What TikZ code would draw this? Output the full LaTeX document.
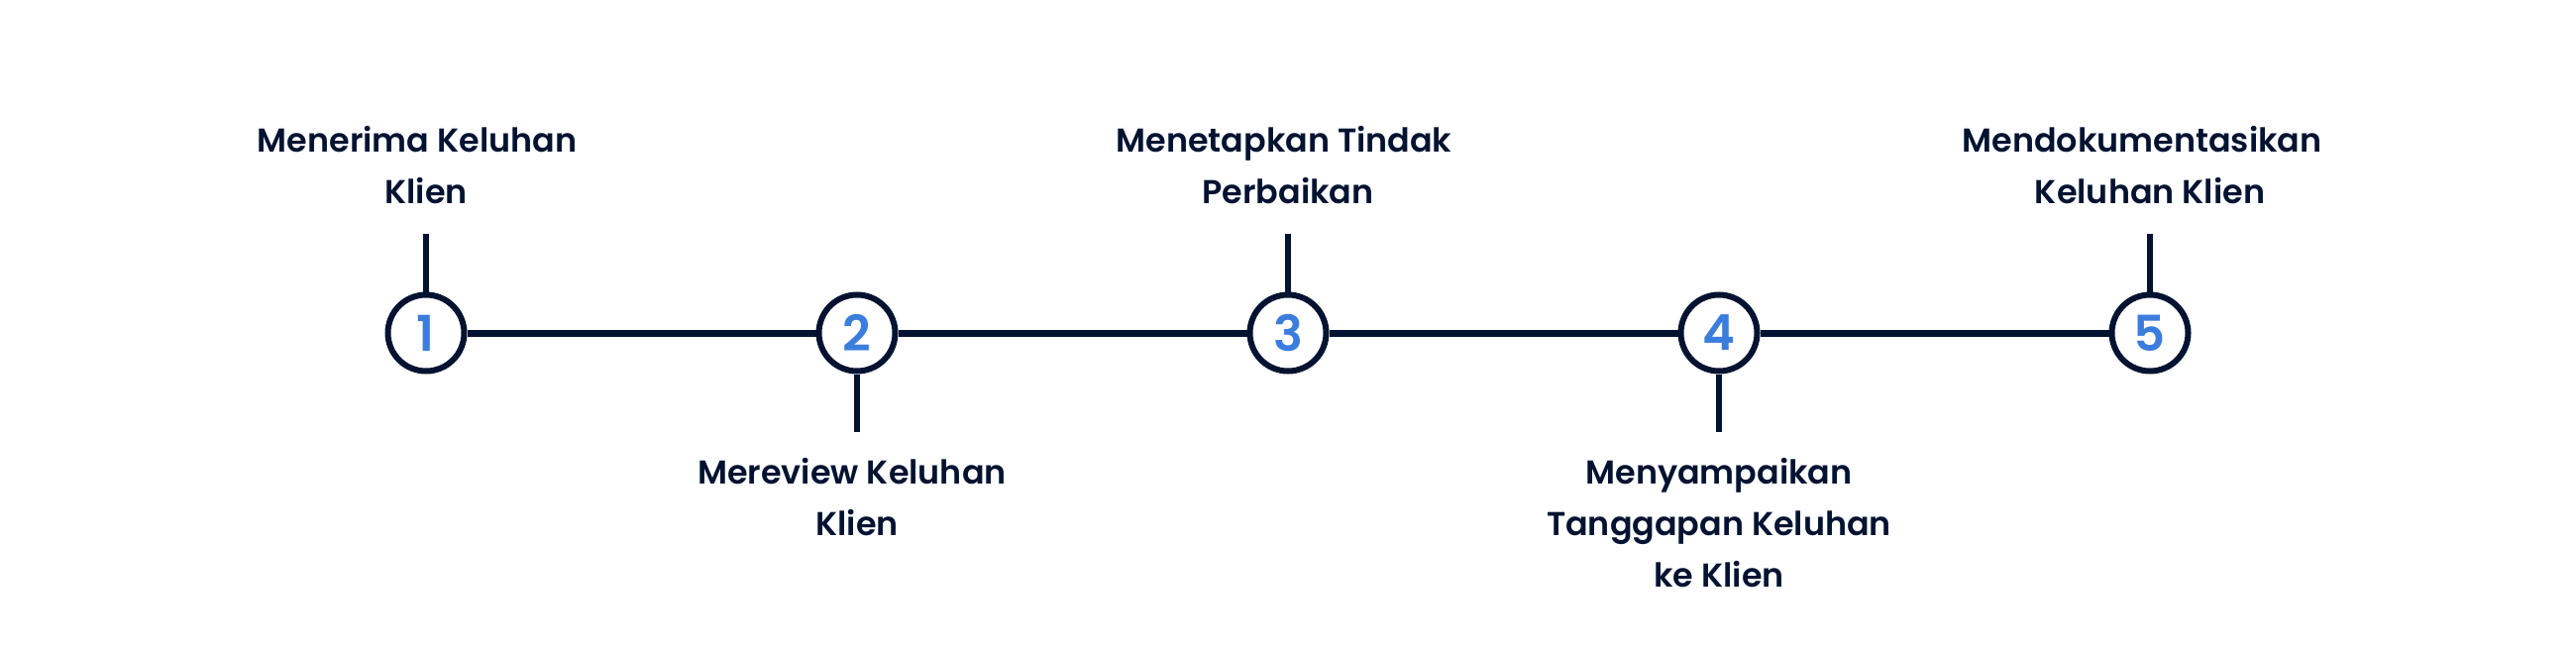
\documentclass[tikz,border=0pt]{standalone}
\usepackage{fontspec}
\setmainfont{Poppins SemiBold}
\definecolor{navy}{HTML}{021331}
\definecolor{stepblue}{HTML}{3B7DDD}
\begin{document}
\begin{tikzpicture}[x=1bp,y=-1bp,
  stepcircle/.style={circle,draw=navy,line width=6bp,inner sep=0pt,minimum size=77bp,
    text=stepblue,font=\fontsize{50}{50}\selectfont},
  joinline/.style={navy,line width=7bp},
  tick/.style={navy,line width=6bp},
  steplabel/.style={align=center,text=navy,font=\fontsize{33.5}{52}\selectfont,inner sep=0pt,anchor=base}]
\useasboundingbox (0,0) rectangle (2600,660);
\foreach \i/\x in {1/430,2/865,3/1300,4/1735,5/2170}{
  \node[stepcircle] (c\i) at (\x,336) {\i};
}
\draw[joinline] (c1) -- (c2);
\draw[joinline] (c2) -- (c3);
\draw[joinline] (c3) -- (c4);
\draw[joinline] (c4) -- (c5);
\coordinate (t1) at (430,236);
\coordinate (t2) at (865,436);
\coordinate (t3) at (1300,236);
\coordinate (t4) at (1735,436);
\coordinate (t5) at (2170,236);
\draw[tick] (c1.north) -- (t1);
\draw[tick] (c2.south) -- (t2);
\draw[tick] (c3.north) -- (t3);
\draw[tick] (c4.south) -- (t4);
\draw[tick] (c5.north) -- (t5);
\node[steplabel] (l1) at (430,205.5) {Menerima Keluhan\kern18bp\\Klien};
\node[steplabel] (l2) at (865,540) {Mereview Keluhan\kern10bp\\Klien};
\node[steplabel] (l3) at (1300,205.5) {Menetapkan Tindak\kern8bp\\Perbaikan};
\node[steplabel] (l4) at (1735,592) {Menyampaikan\\Tanggapan Keluhan\\ke Klien};
\node[steplabel] (l5) at (2170,205.5) {Mendokumentasikan\kern16bp\\Keluhan Klien};
\end{tikzpicture}
\end{document}
